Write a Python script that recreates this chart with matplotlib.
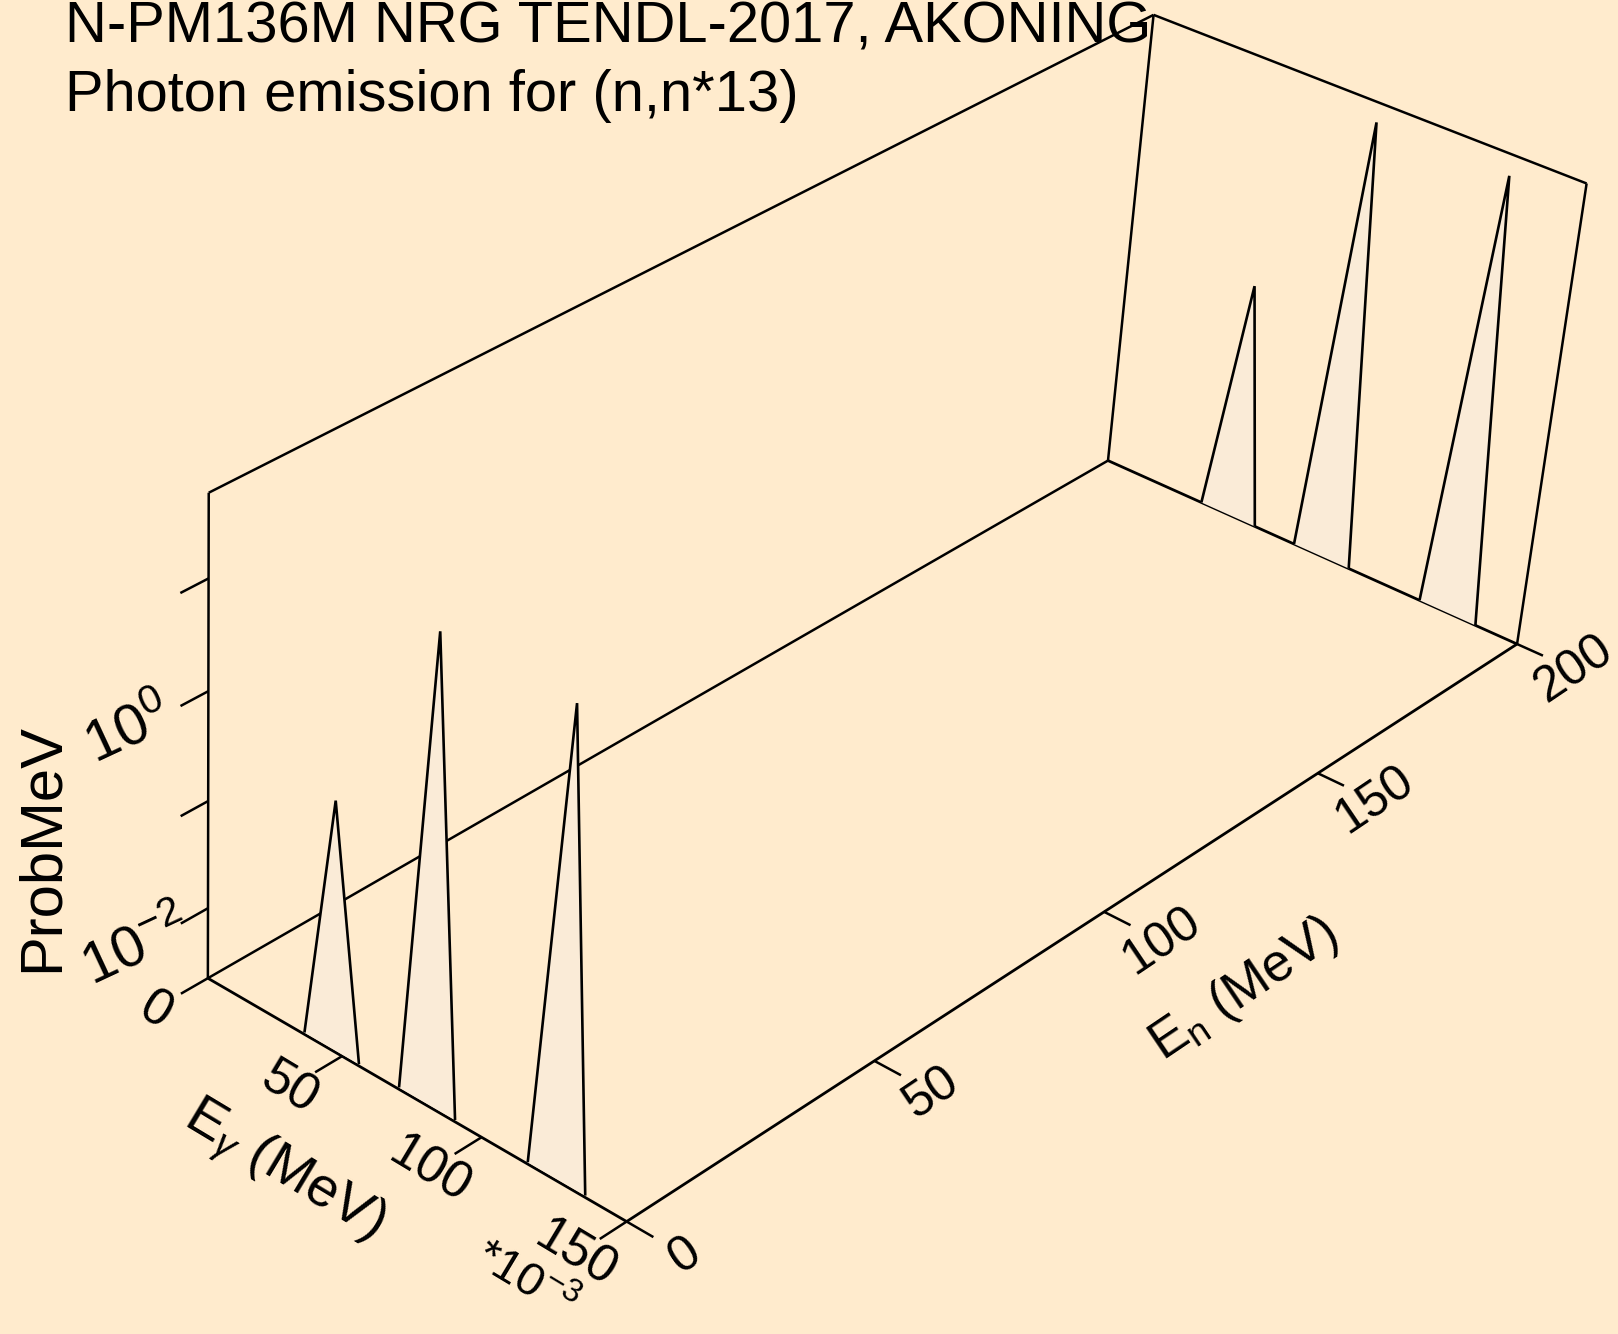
import numpy as np
import matplotlib
matplotlib.use("Agg")
import matplotlib.pyplot as plt
from matplotlib.patches import Polygon

# ---------------- data ----------------
title_line1 = "N-PM136M NRG TENDL-2017, AKONING"
title_line2 = "Photon emission for (n,n*13)"
incident_energy = [0.3, 200.0]                      # En (MeV)
gamma_energy = [0.0356, 0.0456, 0.0556,
                0.0701, 0.0801, 0.0901,
                0.1156, 0.1254, 0.1354]             # Egamma (MeV)
prob_per_mev = [0.0, 0.42, 0.0,
                0.0, 36.3, 0.0,
                0.0, 35.3, 0.0]                     # ProbMeV
eg_tick_values = [0, 50, 100, 150]                  # *1e-3 MeV
eg_tick_labels = ["0", "50", "100", "150"]
en_tick_values = [0, 50, 100, 150, 200]
en_tick_labels = ["0", "50", "100", "150", "200"]
z_major_exp = [-2, 0]
z_minor_exp = [-1, 1]

EG_MAX = 0.15
EN_MAX = 200.0
LOGZ_MIN, LOGZ_MAX = -2.667, 1.743

# ---------------- style ----------------
BG = "#FFEBCD"
FILL = "#FAEBD7"
FONT = "Liberation Sans"
plt.rcParams["font.family"] = [FONT, "DejaVu Sans"]
plt.rcParams["mathtext.fontset"] = "custom"
plt.rcParams["mathtext.rm"] = FONT
plt.rcParams["mathtext.it"] = FONT + ":italic"
plt.rcParams["mathtext.bf"] = FONT + ":bold"

W, H = 1618, 1334


def wz(logv):
    return (logv - LOGZ_MIN) / (LOGZ_MAX - LOGZ_MIN)


# ---------------- perspective camera (layout calibration) ----------------
cam_obj = [(0, 0, 0), (1, 0, 0), (1, 1, 0), (0, 1, 0),
           (0, 0, 1), (0, 1, 1), (1, 1, 1),
           (1 / 3, 0, 0), (2 / 3, 0, 0),
           (1, 0.25, 0), (1, 0.5, 0), (1, 0.75, 0),
           (0, 0, wz(-2)), (0, 0, wz(-1)), (0, 0, wz(0)), (0, 0, wz(1))]
cam_img = [(208.3, 978.3), (627.5, 1221.3), (1517.4, 643.2), (1107.2, 460.8),
           (208.3, 493.8), (1154.5, 15.0), (1586.2, 183.5),
           (341.7, 1058.3), (481.7, 1136.7),
           (873.3, 1061.0), (1104.3, 912.0), (1318.0, 773.7),
           (208.3, 907.7), (208.3, 800.0), (208.3, 690.0), (208.3, 578.3)]

C0 = np.array([800.0, 650.0])
S0 = 800.0


def fit_camera(obj, img):
    n = (np.asarray(img, float) - C0) / S0
    rows = []
    for (X, Y, Z), (x, y) in zip(obj, n):
        P = np.array([X, Y, Z, 1.0])
        rows.append(np.concatenate([P, np.zeros(4), -x * P]))
        rows.append(np.concatenate([np.zeros(4), P, -y * P]))
    _, _, vt = np.linalg.svd(np.array(rows))
    return vt[-1].reshape(3, 4)


CAM = fit_camera(cam_obj, cam_img)


def proj(u, v, w):
    p = CAM @ np.array([u, v, w, 1.0])
    return C0[0] + S0 * p[0] / p[2], C0[1] + S0 * p[1] / p[2]


def line3d(ax, a, b, lw=1.8):
    pa, pb = proj(*a), proj(*b)
    ax.plot([pa[0], pb[0]], [pa[1], pb[1]], color="black", lw=lw,
            solid_capstyle="butt", zorder=3)


fig = plt.figure(figsize=(W / 100, H / 100), dpi=100, facecolor=BG)
ax = fig.add_axes([0, 0, 1, 1])
ax.set_xlim(0, W)
ax.set_ylim(H, 0)
ax.axis("off")
ax.set_facecolor(BG)

# back walls
line3d(ax, (0, 0, 0), (0, 0, 1))
line3d(ax, (0, 0, 1), (0, 1, 1))
line3d(ax, (0, 1, 1), (0, 1, 0))
line3d(ax, (0, 1, 0), (0, 0, 0))
line3d(ax, (0, 1, 1), (1, 1, 1))
line3d(ax, (1, 1, 1), (1, 1, 0))

# spectra, back to front
eg = np.asarray(gamma_energy)
pz = np.asarray(prob_per_mev)
for en in sorted(incident_energy, reverse=True):
    v = en / EN_MAX
    idx = np.where(pz > 0)[0]
    runs = []
    for i in idx:
        if runs and i == runs[-1][-1] + 1:
            runs[-1].append(i)
        else:
            runs.append([i])
    for run in runs:
        lo = max(run[0] - 1, 0)
        hi = min(run[-1] + 1, len(eg) - 1)
        pts = []
        for k in range(lo, hi + 1):
            val = pz[k]
            lz = np.log10(val) if val > 0 else LOGZ_MIN
            lz = min(max(lz, LOGZ_MIN), LOGZ_MAX)
            pts.append(proj(eg[k] / EG_MAX, v, wz(lz)))
        ax.add_patch(Polygon(pts, closed=False, facecolor=FILL,
                             edgecolor="black", lw=1.9, zorder=4,
                             joinstyle="miter"))

# floor front edges
line3d(ax, (0, 0, 0), (1, 0, 0), lw=2.0)
line3d(ax, (1, 0, 0), (1, 1, 0), lw=2.0)
line3d(ax, (0, 1, 0), (1, 1, 0), lw=2.0)

TICK_V = 0.026
TICK_U = 0.06
# Egamma ticks + labels
for val, lab in zip(eg_tick_values, eg_tick_labels):
    u = val * 1e-3 / EG_MAX
    line3d(ax, (u, 0, 0), (u, -TICK_V, 0))
    x, y = proj(u, 0, 0)
    ax.text(x - 52, y + 33, lab, fontsize=37, rotation=-31,
            ha="center", va="center", zorder=5)
x, y = proj(1, 0, 0)
ax.text(x - 102, y + 60, r"*10$^{-3}$", fontsize=34, rotation=-31,
        ha="center", va="center", zorder=5)

# En ticks + labels
for val, lab in zip(en_tick_values, en_tick_labels):
    v = val / EN_MAX
    line3d(ax, (1, v, 0), (1 + TICK_U, v, 0))
    x, y = proj(1.13, v, 0)
    ax.text(x, y, lab, fontsize=36, rotation=34,
            ha="center", va="center", zorder=5)

# z ticks + labels
z_label_offsets = {-2: (-72, 40), 0: (-80, 40)}
for e in sorted(z_major_exp + z_minor_exp):
    line3d(ax, (0, 0, wz(e)), (0, -TICK_V, wz(e)))
for e in z_major_exp:
    x, y = proj(0, 0, wz(e))
    dx, dy = z_label_offsets[e]
    ax.text(x + dx, y + dy, r"10$^{%d}$" % e, fontsize=42, rotation=25,
            ha="center", va="center", zorder=5)

# axis titles
ax.text(42, 848, "ProbMeV", fontsize=43, rotation=90,
        ha="center", va="center")
ax.text(283, 1172, r"E$_{\gamma}$ (MeV)", fontsize=40, rotation=-31,
        ha="center", va="center")
ax.text(1244, 990, r"E$_{\mathrm{n}}$ (MeV)", fontsize=38, rotation=34,
        ha="center", va="center")

# titles
ax.text(65, 43, title_line1, fontsize=41.7, ha="left", va="baseline")
ax.text(65, 111, title_line2, fontsize=41.7, ha="left", va="baseline")

fig.savefig("out.png", dpi=100, facecolor=BG)
